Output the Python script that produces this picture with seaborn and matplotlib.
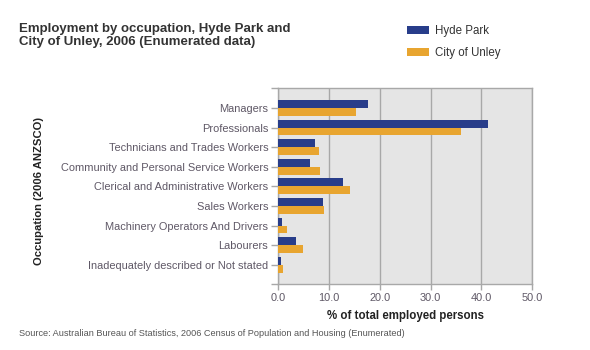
import matplotlib
matplotlib.use("Agg")
import matplotlib.pyplot as plt
import seaborn as sns
import pandas as pd

categories = [
    "Managers",
    "Professionals",
    "Technicians and Trades Workers",
    "Community and Personal Service Workers",
    "Clerical and Administrative Workers",
    "Sales Workers",
    "Machinery Operators And Drivers",
    "Labourers",
    "Inadequately described or Not stated",
]
hyde_park = [17.6, 41.3, 7.2, 6.2, 12.7, 8.9, 0.7, 3.6, 0.5]
unley = [15.4, 35.9, 8.1, 8.3, 14.1, 9.1, 1.8, 5.0, 0.9]
series_names = ["Hyde Park", "City of Unley"]
colors = ["#283D8A", "#E8A530"]
xticks = [0, 10, 20, 30, 40, 50]

df = pd.DataFrame({
    "Occupation": categories * 2,
    "Value": hyde_park + unley,
    "Area": [series_names[0]] * len(categories) + [series_names[1]] * len(categories),
})

sns.set_theme(style="white")
plt.rcParams["font.family"] = ["Liberation Sans", "DejaVu Sans"]

fig = plt.figure(figsize=(5.9, 3.5), dpi=100)
ax = fig.add_axes([0.4712, 0.1877, 0.4310, 0.5600])
ax.set_facecolor("#E5E5E5")

sns.barplot(data=df, y="Occupation", x="Value", hue="Area", order=categories,
            hue_order=series_names, palette=colors, orient="h", width=0.8,
            saturation=1, linewidth=0, ax=ax, legend=True, zorder=3)

ax.set_xlim(0, 50)
ax.set_ylim(len(categories), -1)
ax.set_xticks(xticks)
ax.set_xticklabels([f"{v:.1f}" for v in xticks])
ax.set_yticks(range(-1, len(categories) + 1))
ax.set_yticklabels([""] + categories + [""])
ax.xaxis.grid(True, color="#A8A8A8", linewidth=1, zorder=0)
ax.set_axisbelow(True)
for s in ax.spines.values():
    s.set_color("#A8A8A8")
    s.set_linewidth(1)
ax.tick_params(axis="both", which="both", length=5, width=1, color="#A8A8A8",
               labelsize=7.9, labelcolor="#5F5866", pad=2)
ax.tick_params(axis="x", length=4)
ax.tick_params(left=True, bottom=True)

ax.set_xlabel("% of total employed persons", fontsize=8.3, fontweight="bold",
              color="#222222", labelpad=5)
ax.set_ylabel("")
fig.text(0.066, 0.455, "Occupation (2006 ANZSCO)", rotation=90, fontsize=8.1,
         fontweight="bold", color="#222222", ha="center", va="center")

handles, labels = ax.get_legend_handles_labels()
ax.get_legend().remove()
fig.legend(handles, labels, loc="upper left", bbox_to_anchor=(0.673, 0.957),
           frameon=False, fontsize=8.3, handlelength=1.9, handleheight=0.7,
           labelspacing=0.86, handletextpad=0.52, labelcolor="#333333")

fig.text(0.032, 0.935, "Employment by occupation, Hyde Park and\nCity of Unley, 2006 (Enumerated data)",
         fontsize=9.5, fontweight="bold", color="#333333", ha="left", va="top",
         linespacing=1.1)
fig.text(0.032, 0.048, "Source: Australian Bureau of Statistics, 2006 Census of Population and Housing (Enumerated)",
         fontsize=6.6, color="#555555", ha="left", va="center")

fig.savefig("out.png", dpi=100)
